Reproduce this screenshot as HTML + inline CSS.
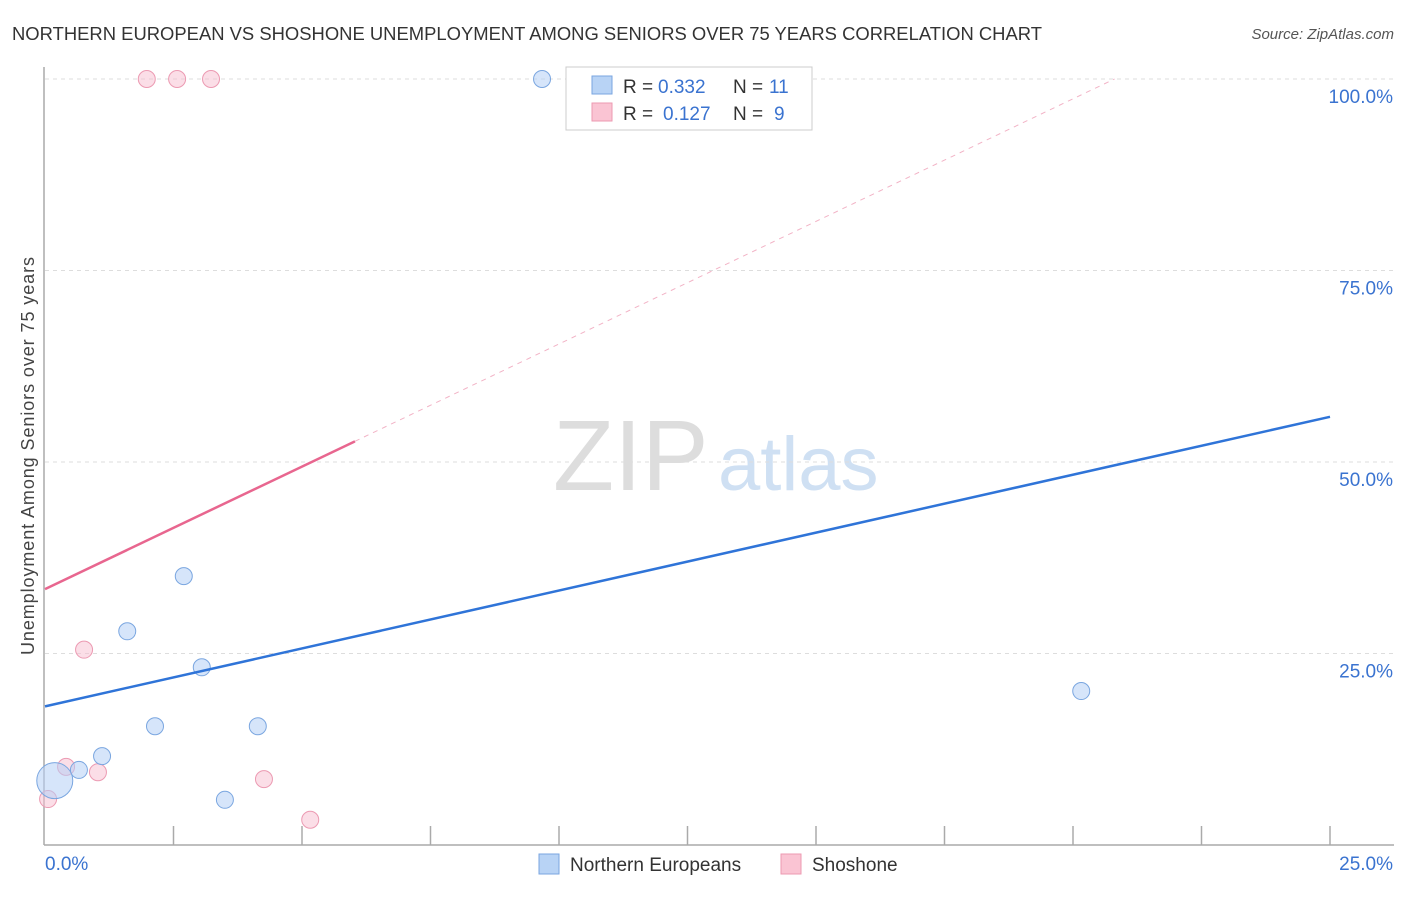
<!DOCTYPE html>
<html><head><meta charset="utf-8"><style>
body{margin:0;background:#fff;font-family:"Liberation Sans",sans-serif;}
svg text{font-family:"Liberation Sans",sans-serif;}
</style></head><body>
<svg id="c" width="1406" height="892">
<text x="12" y="40" font-size="18" fill="#333" textLength="1030" lengthAdjust="spacingAndGlyphs">NORTHERN EUROPEAN VS SHOSHONE UNEMPLOYMENT AMONG SENIORS OVER 75 YEARS CORRELATION CHART</text>
<text x="1394" y="39" font-size="15" fill="#555" text-anchor="end" font-style="italic">Source: ZipAtlas.com</text>
<text x="34" y="456" font-size="18" fill="#444" text-anchor="middle" transform="rotate(-90 34 456)" textLength="398">Unemployment Among Seniors over 75 years</text>
<text x="553" y="490" font-size="100" fill="#ddd" font-family="Liberation Serif">ZIP</text>
<text x="718" y="490" font-size="76" fill="#cfe0f3">atlas</text>
<g id="grid"></g><g id="marks"></g>
<g>
<rect x="566" y="67" width="246" height="63" fill="#fff" stroke="#ccc"/>
<rect x="592" y="76" width="20" height="18" fill="#b8d3f5" stroke="#7aa6e0"/>
<rect x="592" y="103" width="20" height="18" fill="#fac4d3" stroke="#ec9ab2"/>
<text x="623" y="93" font-size="19" fill="#333">R =</text>
<text x="658" y="93" font-size="19" fill="#3a73d0">0.332</text>
<text x="733" y="93" font-size="19" fill="#333">N =</text>
<text x="769" y="93" font-size="19" fill="#3a73d0">11</text>
<text x="623" y="120" font-size="19" fill="#333">R =</text>
<text x="663" y="120" font-size="19" fill="#3a73d0">0.127</text>
<text x="733" y="120" font-size="19" fill="#333">N =</text>
<text x="774" y="120" font-size="19" fill="#3a73d0">9</text>
</g>
<g>
<rect x="539" y="854" width="20" height="20" fill="#b8d3f5" stroke="#7aa6e0"/>
<text x="570" y="871" font-size="19" fill="#333">Northern Europeans</text>
<rect x="781" y="854" width="20" height="20" fill="#fac4d3" stroke="#ec9ab2"/>
<text x="812" y="871" font-size="19" fill="#333">Shoshone</text>
</g>
</svg>
<script>
const yTicks=[25,50,75,100];
const xTickLabels=["0.0%","25.0%"];
const blueX=[9.67,2.70,1.60,3.05,2.14,4.14,1.11,0.66,0.19,3.50,20.16];
const blueY=[100,35.1,27.9,23.2,15.5,15.5,11.6,9.8,8.4,5.9,20.1];
const blueR=[8.5,8.5,8.5,8.5,8.5,8.5,8.5,8.5,18,8.5,8.5];
const pinkX=[1.98,2.57,3.23,0.76,0.41,1.03,4.26,5.16,0.06];
const pinkY=[100,100,100,25.5,10.2,9.5,8.6,3.3,6.0];
const blueLine=[18.1,55.9];
const pinkLine=[33.4,52.7,6.03];
const NS="http://www.w3.org/2000/svg";
const X=v=>45+v/25*1285, Y=v=>845-v/100*766;
function mk(t,a,p){const e=document.createElementNS(NS,t);for(const k in a)e.setAttribute(k,a[k]);p.appendChild(e);return e;}
const g=document.getElementById('grid'),m=document.getElementById('marks');
yTicks.forEach(t=>{const l=mk('line',{x1:45,x2:1394,y1:Y(t),y2:Y(t),stroke:'#ddd','stroke-dasharray':'4 4'},g);


const tx=mk('text',{x:1393,y:Y(t)+24,'font-size':19,fill:'#3a73d0','text-anchor':'end'},g);tx.textContent=t.toFixed(1)+'%';

});
mk('line',{x1:44,x2:44,y1:67,y2:845,stroke:'#aaa','stroke-width':1.5},g);
mk('line',{x1:44,x2:1394,y1:845,y2:845,stroke:'#aaa','stroke-width':1.5},g);
for(let i=1;i<=10;i++){const x=45+i*128.5;mk('line',{x1:x,x2:x,y1:826,y2:845,stroke:'#aaa','stroke-width':1.5},g);}
xTickLabels.forEach((s,i)=>{const tx=mk('text',{x:i?1393:45,y:870,'font-size':19,fill:'#3a73d0','text-anchor':i?'end':'start'},g);tx.textContent=s;

});
pinkX.forEach((x,i)=>{const c=mk('circle',{cx:X(x),cy:Y(pinkY[i]),r:8.5,fill:'rgba(248,190,208,0.5)',stroke:'#ec9ab2'},m);

});
blueX.forEach((x,i)=>{const c=mk('circle',{cx:X(x),cy:Y(blueY[i]),r:blueR[i],fill:'rgba(180,208,245,0.55)',stroke:'#7aa6e0'},m);

});
const bl=mk('line',{x1:X(0),y1:Y(blueLine[0]),x2:X(25),y2:Y(blueLine[1]),stroke:'#2f74d8','stroke-width':2.5},m);


const slope=(pinkLine[1]-pinkLine[0])/pinkLine[2];const xe=(100-pinkLine[0])/slope;
const pd=mk('line',{x1:X(pinkLine[2]),y1:Y(pinkLine[1]),x2:X(xe),y2:Y(100),stroke:'#f2b3c6','stroke-width':1,'stroke-dasharray':'5 5'},m);


const pl=mk('line',{x1:X(0),y1:Y(pinkLine[0]),x2:X(pinkLine[2]),y2:Y(pinkLine[1]),stroke:'#e8668f','stroke-width':2.5},m);


</script>
</body></html>
